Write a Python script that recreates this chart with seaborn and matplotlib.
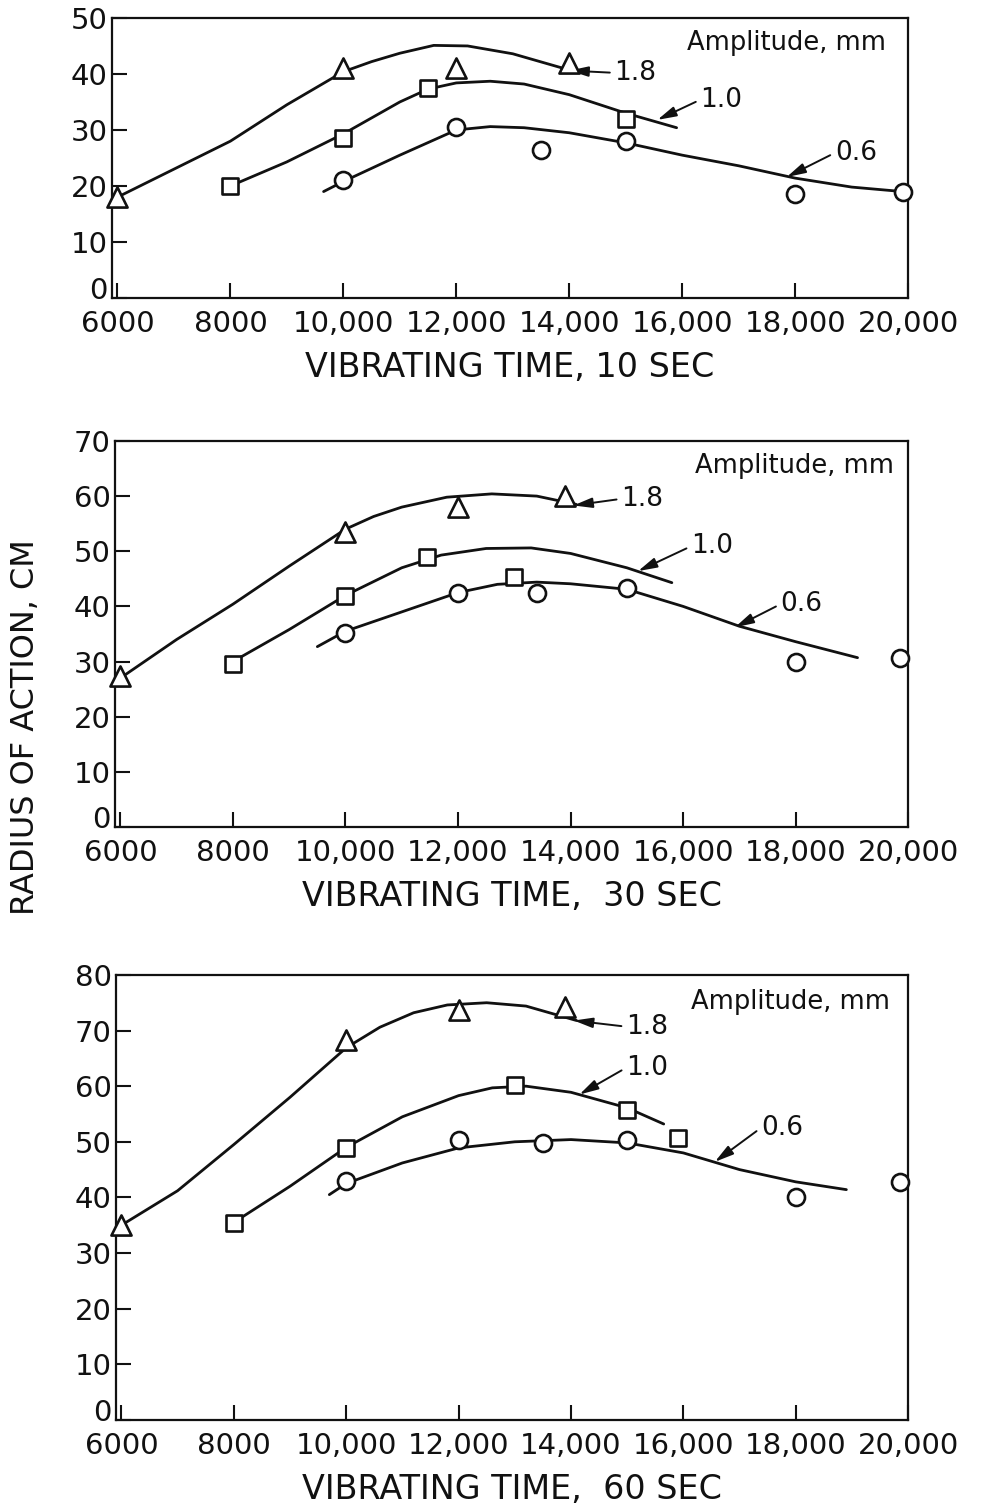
import matplotlib
matplotlib.use("Agg")
import matplotlib.pyplot as plt
import matplotlib.transforms as mtransforms
import seaborn as sns
import pandas as pd

# ---- data ----
xtick_vals = [6000, 8000, 10000, 12000, 14000, 16000, 18000, 20000]
xtick_labels = ["6000", "8000", "10,000", "12,000", "14,000", "16,000", "18,000", "20,000"]
panel_titles = ["VIBRATING TIME, 10 SEC", "VIBRATING TIME,  30 SEC", "VIBRATING TIME,  60 SEC"]
panel_ymax = [50, 70, 80]

# 10 sec
p10_tri_x = [6000, 10000, 12000, 14000]
p10_tri_y = [18, 41, 41, 42]
p10_sq_x = [8000, 10000, 11500, 15000]
p10_sq_y = [20, 28.5, 37.5, 32]
p10_circ_x = [10000, 12000, 13500, 15000, 18000, 19900]
p10_circ_y = [21, 30.5, 26.5, 28, 18.5, 19]
p10_c18_x = [6000, 7000, 8000, 9000, 10000, 10500, 11000, 11600, 12200, 13000, 14000]
p10_c18_y = [18, 23, 28, 34.5, 40.4, 42.2, 43.7, 45.1, 45, 43.6, 40.7]
p10_c10_x = [8000, 9000, 10000, 11000, 11500, 12000, 12600, 13200, 14000, 15000, 15900]
p10_c10_y = [20, 24.3, 29.3, 35, 37.3, 38.4, 38.7, 38.2, 36.3, 33, 30.4]
p10_c06_x = [9650, 10000, 11000, 12000, 12600, 13200, 14000, 15000, 16000, 17000, 18000, 19000, 19900]
p10_c06_y = [19, 20.8, 25.5, 30, 30.6, 30.4, 29.5, 27.7, 25.5, 23.6, 21.4, 19.8, 19]

# 30 sec
p30_tri_x = [6000, 10000, 12000, 13900]
p30_tri_y = [27.3, 53.5, 58, 60]
p30_sq_x = [8000, 10000, 11450, 13000]
p30_sq_y = [29.6, 41.8, 48.9, 45.4]
p30_circ_x = [10000, 12000, 13400, 15000, 18000, 19850]
p30_circ_y = [35.2, 42.5, 42.5, 43.4, 30, 30.7]
p30_c18_x = [6000, 7000, 8000, 9000, 10000, 10500, 11000, 11800, 12600, 13400, 14100]
p30_c18_y = [27, 34, 40.4, 47.3, 54, 56.3, 58, 59.8, 60.4, 60, 58.5]
p30_c10_x = [8000, 9000, 10000, 11000, 11700, 12500, 13300, 14000, 15000, 15800]
p30_c10_y = [30, 35.8, 42, 47, 49.3, 50.5, 50.6, 49.6, 47, 44.3]
p30_c06_x = [9500, 10000, 11000, 12000, 12700, 13400, 14000, 15000, 16000, 17000, 18000, 19100]
p30_c06_y = [32.7, 35.5, 39, 42.5, 44, 44.4, 44.1, 43.1, 40, 36.4, 33.6, 30.7]

# 60 sec
p60_tri_x = [6000, 10000, 12000, 13900]
p60_tri_y = [35, 68.3, 73.7, 74.3]
p60_sq_x = [8000, 10000, 13000, 15000, 15900]
p60_sq_y = [35.4, 48.9, 60.3, 55.8, 50.7]
p60_circ_x = [10000, 12000, 13500, 15000, 18000, 19850]
p60_circ_y = [43, 50.4, 49.8, 50.4, 40.1, 42.8]
p60_c18_x = [6000, 7000, 8000, 9000, 10000, 10600, 11200, 11800, 12500, 13200, 14100]
p60_c18_y = [35, 41.2, 49.5, 58, 66.9, 70.6, 73.2, 74.6, 75, 74.4, 71.8]
p60_c10_x = [8000, 9000, 10000, 11000, 12000, 12600, 13200, 14000, 15000, 15650]
p60_c10_y = [35.5, 42, 49, 54.5, 58.3, 59.7, 60, 58.9, 56.1, 53.2]
p60_c06_x = [9700, 10000, 11000, 12000, 13000, 14000, 15000, 16000, 17000, 18000, 18900]
p60_c06_y = [40.5, 42.5, 46.2, 48.9, 50, 50.4, 49.8, 48, 45, 42.8, 41.4]

sns.set_theme(style="white")
plt.rcParams["font.family"] = ["DejaVu Sans"]

fig = plt.figure(figsize=(9.98, 15.08), dpi=100)
# axes boxes in figure fractions
boxes = [
    [0.112, 0.8024, 0.798, 0.1857],
    [0.115, 0.4516, 0.795, 0.2560],
    [0.116, 0.0584, 0.794, 0.2951],
]

panels = [
    (p10_tri_x, p10_tri_y, p10_sq_x, p10_sq_y, p10_circ_x, p10_circ_y,
     p10_c18_x, p10_c18_y, p10_c10_x, p10_c10_y, p10_c06_x, p10_c06_y),
    (p30_tri_x, p30_tri_y, p30_sq_x, p30_sq_y, p30_circ_x, p30_circ_y,
     p30_c18_x, p30_c18_y, p30_c10_x, p30_c10_y, p30_c06_x, p30_c06_y),
    (p60_tri_x, p60_tri_y, p60_sq_x, p60_sq_y, p60_circ_x, p60_circ_y,
     p60_c18_x, p60_c18_y, p60_c10_x, p60_c10_y, p60_c06_x, p60_c06_y),
]

# label placement (text left/centre, arrow tip) per panel
notes = [
    {"amp": (19615, 45.5), "1.8": ((14800, 40.2), (14000, 40.6)),
     "1.0": ((16320, 35.4), (15560, 31.8)), "0.6": ((18700, 25.9), (17850, 21.6))},
    {"amp": (19740, 65.5), "1.8": ((14900, 59.5), (14050, 58.3)),
     "1.0": ((16140, 50.9), (15200, 46.4)), "0.6": ((17730, 40.4), (16920, 36.2))},
    {"amp": (19670, 75.2), "1.8": ((14980, 70.7), (14050, 71.8)),
     "1.0": ((14980, 63.3), (14150, 58.5)), "0.6": ((17380, 52.5), (16560, 46.4))},
]

ink = "#111111"
for i, (box, data) in enumerate(zip(boxes, panels)):
    ax = fig.add_axes(box)
    (tx, ty, sx, sy, cx, cy, a18x, a18y, a10x, a10y, a06x, a06y) = data

    for lx, ly in [(a18x, a18y), (a10x, a10y), (a06x, a06y)]:
        sns.lineplot(x=lx, y=ly, ax=ax, color=ink, linewidth=2.0,
                     estimator=None, sort=False, legend=False)

    for mx, my, mk, sz in [(tx, ty, "^", 210), (sx, sy, "s", 130), (cx, cy, "o", 150)]:
        sns.scatterplot(x=mx, y=my, ax=ax, marker=mk, s=sz, facecolor="white",
                        edgecolor=ink, linewidth=1.9, zorder=4, legend=False,
                        clip_on=False)

    ax.set_xlim(5900, 19950)
    ax.set_ylim(0, panel_ymax[i])
    ax.set_xticks(xtick_vals)
    ax.set_xticklabels(xtick_labels)
    ax.set_yticks(list(range(0, panel_ymax[i] + 1, 10)))
    ax.tick_params(axis="both", direction="in", length=11, width=1.5,
                   labelsize=21, colors=ink, bottom=True, left=True,
                   top=False, right=False)
    ax.tick_params(axis="x", pad=9)
    ax.tick_params(axis="y", pad=3)
    # the "0" sits a little above the corner, clear of "6000"
    zero_lab = ax.get_yticklabels()[0]
    zero_lab.set_transform(zero_lab.get_transform() +
                           mtransforms.ScaledTranslation(0, 7 / 72, fig.dpi_scale_trans))
    for sp in ax.spines.values():
        sp.set_color(ink)
        sp.set_linewidth(1.6)
    ax.set_xlabel(panel_titles[i], fontsize=24, color=ink, labelpad=9)
    ax.set_ylabel("")
    ax.grid(False)

    nt = notes[i]
    ax.text(nt["amp"][0], nt["amp"][1], "Amplitude, mm", fontsize=18.5,
            ha="right", va="center", color=ink)
    for lab in ["1.8", "1.0", "0.6"]:
        (txy, tip) = nt[lab]
        ax.annotate(lab, xy=tip, xytext=txy, fontsize=19, ha="left", va="center",
                    color=ink,
                    arrowprops=dict(arrowstyle="-|>,head_length=0.6,head_width=0.16",
                                    color=ink, lw=1.4, shrinkA=1, shrinkB=0,
                                    relpos=(0, 0.5)))

fig.text(0.026, 0.518, "RADIUS OF ACTION, CM", rotation=90, ha="center",
         va="center", fontsize=23, color=ink)

fig.savefig("out.png", dpi=100, facecolor="white")
